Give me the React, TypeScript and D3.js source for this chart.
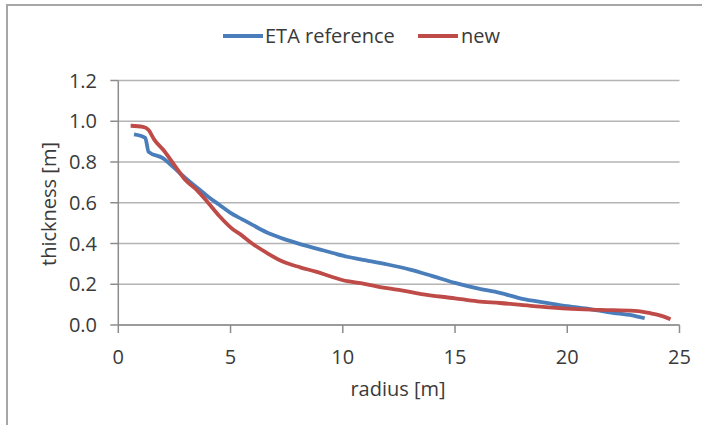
import React from "react";
import * as d3 from "d3";

const etaX = [0.7, 1.2, 1.35, 2.0, 2.5, 3.0, 3.5, 4.0, 4.5, 5.0, 5.5, 6.0, 6.6, 7.3, 8.1, 9.0, 9.6, 10.2, 10.8, 12.0, 13.0, 14.0, 15.0, 16.0, 17.0, 18.0, 19.0, 20.0, 21.0, 22.2, 23.0, 23.45];
const etaY = [0.935, 0.918, 0.85, 0.818, 0.77, 0.72, 0.675, 0.63, 0.59, 0.55, 0.52, 0.49, 0.455, 0.425, 0.397, 0.37, 0.352, 0.335, 0.322, 0.297, 0.272, 0.24, 0.207, 0.18, 0.158, 0.128, 0.11, 0.092, 0.078, 0.057, 0.045, 0.033];

const newX = [0.55, 1.1, 1.35, 1.6, 2.0, 2.5, 3.0, 3.5, 4.0, 4.5, 5.1, 5.5, 5.9, 6.6, 7.35, 8.1, 8.8, 9.5, 10.2, 10.8, 11.5, 12.5, 13.5, 15.0, 16.0, 17.0, 18.5, 20.0, 21.5, 23.0, 23.7, 24.2, 24.6];
const newY = [0.978, 0.973, 0.957, 0.91, 0.86, 0.785, 0.71, 0.662, 0.6, 0.535, 0.47, 0.44, 0.405, 0.355, 0.31, 0.283, 0.262, 0.237, 0.215, 0.205, 0.19, 0.172, 0.152, 0.131, 0.116, 0.108, 0.093, 0.08, 0.074, 0.069, 0.058, 0.045, 0.028];

const xTicks = [0, 5, 10, 15, 20, 25];
const yTicks = [0, 0.2, 0.4, 0.6, 0.8, 1.0, 1.2];
const seriesNames = ["ETA reference", "new"];
const colors = ["#4A7EBB", "#BE4B48"];

export default function App() {
  const x = d3.scaleLinear().domain([0, 25]).range([118.3, 679.5]);
  const y = d3.scaleLinear().domain([0, 1.2]).range([325, 80.5]);
  const line = d3
    .line<[number, number]>()
    .x((d) => x(d[0]))
    .y((d) => y(d[1]))
    .curve(d3.curveMonotoneX);
  const eta: [number, number][] = etaX.map((v, i) => [v, etaY[i]]);
  const nw: [number, number][] = newX.map((v, i) => [v, newY[i]]);
  const font = "'Open Sans', sans-serif";
  const textColor = "#3a3a3a";
  return (
    <svg
      width={702}
      height={425}
      style={{ position: "absolute", left: 0, top: 0, background: "#fff" }}
      fontFamily={font}
    >
      <rect x={7} y={5} width={720} height={440} fill="#fff" stroke="#a6a6a6" strokeWidth={2} />
      {yTicks.map((t) => (
        <g key={"y" + t}>
          <line x1={x(0)} x2={x(25)} y1={y(t)} y2={y(t)} stroke="#b4b4b4" strokeWidth={1.5} />
          <line x1={x(0) - 8} x2={x(0)} y1={y(t)} y2={y(t)} stroke="#8c8c8c" strokeWidth={1.5} />
          <text x={97} y={y(t)} dy="0.35em" textAnchor="end" fontSize={20} fill={textColor}>
            {t.toFixed(1)}
          </text>
        </g>
      ))}
      <line x1={x(0)} x2={x(0)} y1={y(1.2)} y2={y(0)} stroke="#8c8c8c" strokeWidth={1.5} />
      <line x1={x(0)} x2={x(25)} y1={y(0)} y2={y(0)} stroke="#8c8c8c" strokeWidth={1.5} />
      {xTicks.map((t) => (
        <g key={"x" + t}>
          <line x1={x(t)} x2={x(t)} y1={y(0)} y2={y(0) + 8} stroke="#8c8c8c" strokeWidth={1.5} />
          <text x={x(t)} y={363.5} textAnchor="middle" fontSize={20} fill={textColor}>
            {t}
          </text>
        </g>
      ))}
      <path d={line(eta) || ""} fill="none" stroke={colors[0]} strokeWidth={3.8} strokeLinejoin="round" />
      <path d={line(nw) || ""} fill="none" stroke={colors[1]} strokeWidth={3.8} strokeLinejoin="round" />
      <text x={398} y={396} textAnchor="middle" fontSize={20} fill={textColor}>
        radius [m]
      </text>
      <text
        transform={`translate(56,204) rotate(-90)`}
        textAnchor="middle"
        fontSize={20}
        fill={textColor}
      >
        thickness [m]
      </text>
      <g>
        <line x1={223} x2={263} y1={36} y2={36} stroke={colors[0]} strokeWidth={3.8} />
        <text x={265} y={43} fontSize={20} fill={textColor}>
          {seriesNames[0]}
        </text>
        <line x1={418} x2={458} y1={36} y2={36} stroke={colors[1]} strokeWidth={3.8} />
        <text x={461} y={43} fontSize={20} fill={textColor}>
          {seriesNames[1]}
        </text>
      </g>
    </svg>
  );
}
